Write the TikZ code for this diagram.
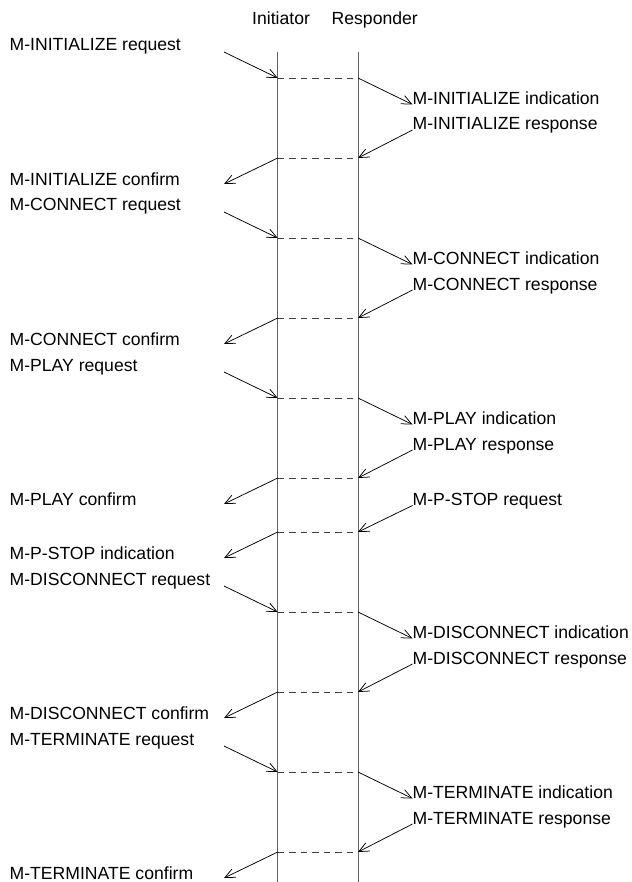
\documentclass[tikz,border=0pt]{standalone}
\usepackage{fontspec}
\setmainfont{Liberation Sans}
\usetikzlibrary{arrows.meta}
\begin{document}
\begin{tikzpicture}[x=1pt,y=-1pt,
  lbl/.style={inner sep=0pt,anchor=base west,font=\fontsize{17.6}{21}\selectfont},
  life/.style={draw=black!62,line width=1pt},
  sync/.style={draw=black!75,line width=0.9pt,dash pattern=on 6.5pt off 5pt},
  msg/.style={draw=black,line width=0.75pt,-{Straight Barb[length=10pt,width=9pt,line width=0.75pt]}}]
\useasboundingbox (0,0) rectangle (631,882);
% headers
\node[lbl] (hI) at (252,25) {Initiator};
\node[lbl] (hR) at (331.5,25) {Responder};
% lifelines
\coordinate (iTop) at (277.7,52);
\coordinate (iBot) at (277.7,882);
\coordinate (rTop) at (358,52);
\coordinate (rBot) at (358,882);
\draw[life] (iTop) -- (iBot);
\draw[life] (rTop) -- (rBot);
% services
\foreach \nm/\ya/\yb in {INITIALIZE/78/158,CONNECT/238/318,PLAY/398/478,DISCONNECT/612/692,TERMINATE/772/852}{
  % request / indication
  \node[lbl] (req\nm) at (9.5,\ya-27) {M-\nm{} request};
  \coordinate (reqS\nm) at (224,\ya-26);
  \coordinate (ia\nm) at (277.7,\ya);
  \coordinate (ra\nm) at (358,\ya);
  \node[lbl] (ind\nm) at (412.5,\ya+26.5) {M-\nm{} indication};
  \draw[msg] (reqS\nm) -- (ia\nm);
  \draw[sync] (ia\nm) -- (ra\nm);
  \draw[msg] (ra\nm) -- (ind\nm.base west);
  % response / confirm
  \node[lbl] (rsp\nm) at (412.5,\yb-28) {M-\nm{} response};
  \coordinate (ib\nm) at (277.7,\yb);
  \coordinate (rb\nm) at (358,\yb);
  \coordinate (cfE\nm) at (224,\yb+26);
  \node[lbl] (cnf\nm) at (9.5,\yb+27.5) {M-\nm{} confirm};
  \draw[msg] (rsp\nm.base west) -- (rb\nm);
  \draw[sync] (ib\nm) -- (rb\nm);
  \draw[msg] (ib\nm) -- (cfE\nm);
}
% P-STOP
\node[lbl] (pstopReq) at (412.5,505.5) {M-P-STOP request};
\coordinate (ipstop) at (277.7,532);
\coordinate (rpstop) at (358,532);
\coordinate (pstopE) at (224,558);
\node[lbl] (pstopInd) at (9.5,559.5) {M-P-STOP indication};
\draw[msg] (pstopReq.base west) -- (rpstop);
\draw[sync] (ipstop) -- (rpstop);
\draw[msg] (ipstop) -- (pstopE);
\end{tikzpicture}
\end{document}
